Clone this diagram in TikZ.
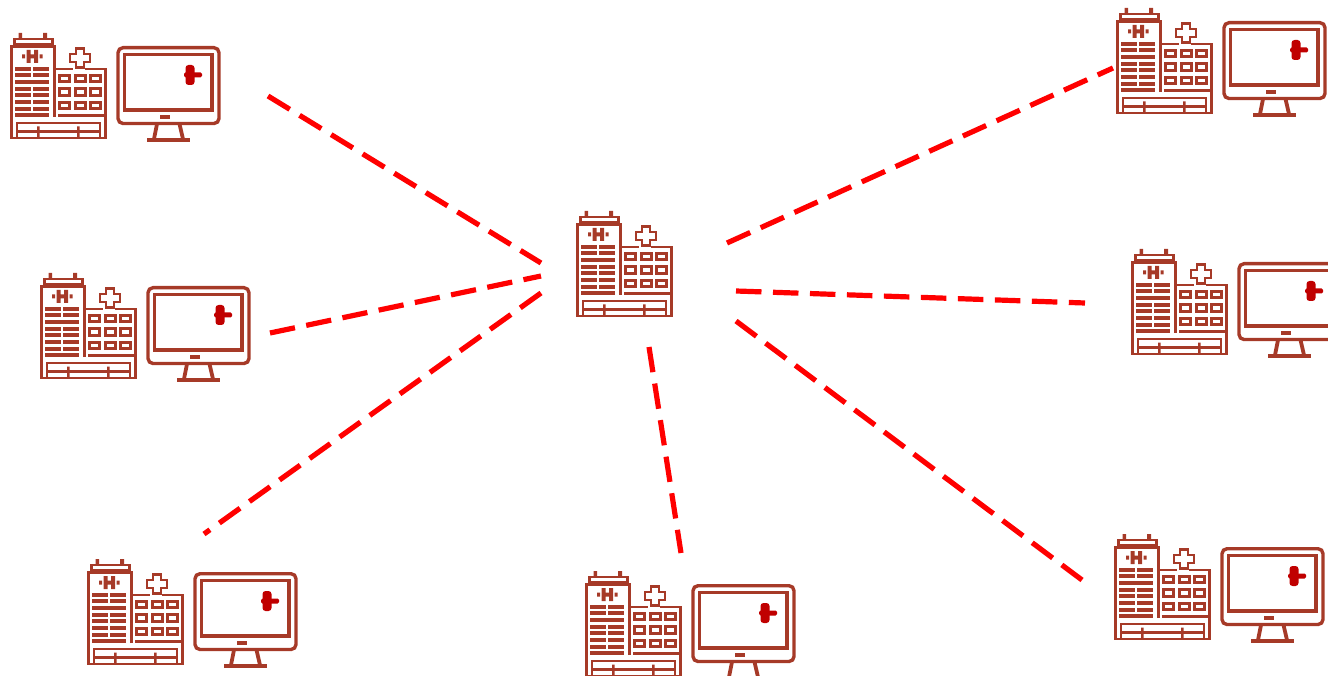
\documentclass[tikz,border=0pt]{standalone}
\definecolor{icon}{HTML}{A63A28}
\definecolor{blob}{HTML}{C00000}
\tikzset{
  px/.style={x=1pt,y=-1pt},
  iconline/.style={draw=icon,line width=2.9pt,fill=none},
  thick bar/.style={draw=icon,line width=3.8pt},
  link/.style={draw=red,line width=5.2pt,dash pattern=on 25.5pt off 11.5pt},
  pics/hospital/.style={code={
    % antennas and roof
    \fill[icon] (8.5,0) rectangle (12,5) (33,0) rectangle (37,5);
    \draw[iconline] (4.5,6) rectangle (42.5,11.5);
    % tower
    \draw[iconline] (44.7,84) -- (44.7,13.2) -- (1.2,13.2) -- (1.2,105) -- (95.8,105) -- (95.8,36) -- (75,36);
    \draw[iconline] (45,36) -- (63,36);
    % H sign
    \fill[icon] (16.5,17) rectangle (20.5,30) (24,17) rectangle (28,30) (17,21.5) rectangle (27,25.5)
      (12,21.5) rectangle (15,25.5) (29.5,21.5) rectangle (32.5,25.5);
    % floor bars
    \foreach \y in {36,42,56,62,69,76}{
      \draw[thick bar] (5,\y) -- (20.5,\y) (23,\y) -- (39,\y);}
    \foreach \y in {49,82}{\draw[thick bar] (5,\y) -- (39,\y);}
    \draw[thick bar] (48,82.5) -- (97,82.5);
    % windows
    \foreach \x in {49.7,65.2,80.2}{\foreach \y in {42.3,55.6,69.3}{
      \draw[draw=icon,line width=3pt] (\x,\y) rectangle ++(10,6.6);}}
    % cross
    \draw[iconline] (66,15.5) -- (74,15.5) -- (74,21) -- (80,21) -- (80,29) -- (74,29) -- (74,34.5) -- (66,34.5) -- (66,29) -- (60,29) -- (60,21) -- (66,21) -- cycle;
    % bench
    \draw[iconline] (7,105) -- (7,90) -- (90,90) -- (90,105);
    \draw[thick bar] (7,98.5) -- (90,98.5);
    \fill[icon] (27,93.5) rectangle (29.7,104) (67,93.5) rectangle (69.7,104);
  }},
  pics/screen/.style={code={
    \draw[iconline,line width=3.4pt,rounded corners=5pt] (108,14.7) rectangle (209,90.5);
    \draw[iconline,line width=3.4pt] (114.7,21.5) rectangle (202,77);
    \fill[icon] (150,82) rectangle (160,86);
    \draw[iconline,line width=3.8pt] (147,91) -- (144,106) (169.5,91) -- (173,106);
    \draw[thick bar,line width=4pt] (137.3,107) -- (180,107);
    \fill[blob,rounded corners=3pt] (175.5,32) rectangle (184.5,52);
    \fill[blob,rounded corners=1.5pt] (174,39.5) rectangle (192,44.5);
  }}
}
\begin{document}
\begin{tikzpicture}[px]
\useasboundingbox (0,0) rectangle (1328,676);
\begin{scope}
\clip (0,0) rectangle (1328,676);
\foreach \ox/\oy in {10/33,40/273,87/559,585/571,1116/8,1131/249,1114/534}{
  \pic at (\ox,\oy) {hospital};
  \pic at (\ox,\oy) {screen};
}
\pic at (576,211) {hospital};
\end{scope}
\coordinate (a1) at (268,96);   \coordinate (a2) at (541,263);
\coordinate (b1) at (270,333);  \coordinate (b2) at (541,276);
\coordinate (c1) at (204,534);  \coordinate (c2) at (541,293);
\coordinate (d1) at (649,347);  \coordinate (d2) at (681,553);
\coordinate (e1) at (727,243);  \coordinate (e2) at (1113,68);
\coordinate (f1) at (736,291);  \coordinate (f2) at (1085,303);
\coordinate (g1) at (736,321);  \coordinate (g2) at (1082,580);
\draw[link] (a1) -- (a2);
\draw[link] (b1) -- (b2);
\draw[link] (c2) -- (c1);
\draw[link] (d1) -- (d2);
\draw[link] (e1) -- (e2);
\draw[link] (f1) -- (f2);
\draw[link] (g1) -- (g2);
\end{tikzpicture}
\end{document}
